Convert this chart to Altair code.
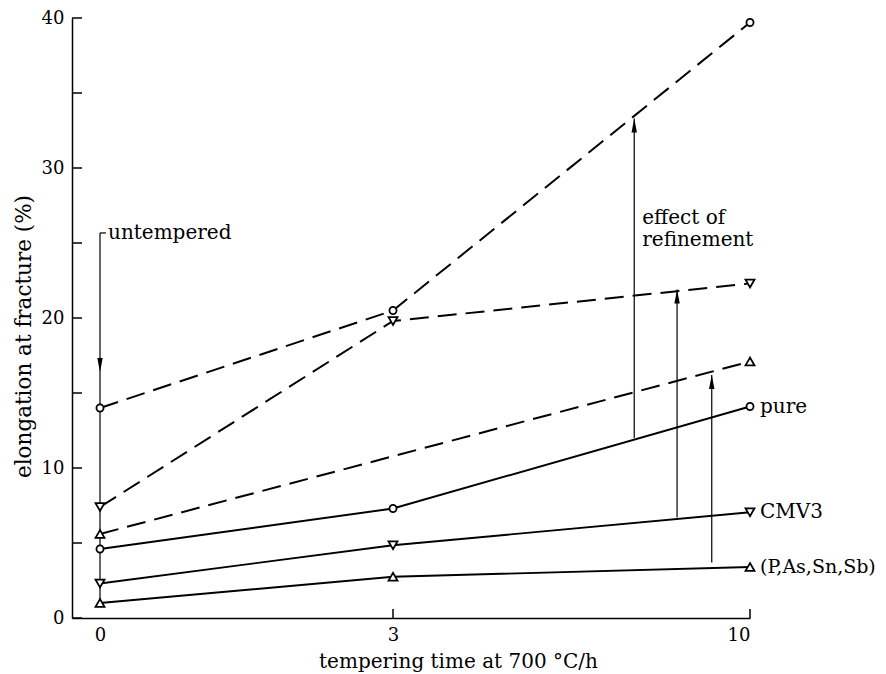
import altair as alt
import pandas as pd

# ---- data ----
times = [0, 3, 10]
pure_solid = [4.6, 7.3, 14.1]
cmv3_solid = [2.3, 4.85, 7.05]
imp_solid = [1.0, 2.75, 3.4]
pure_dashed = [14.0, 20.5, 39.7]
cmv3_dashed = [7.4, 19.8, 22.3]
imp_dashed_times = [0, 10]
imp_dashed = [5.6, 17.1]

series_labels = ["pure", "CMV3", "(P,As,Sn,Sb)"]
label_values = [14.1, 7.05, 3.4]
label_sizes = [20, 20, 19]

y_ticks = [0, 5, 10, 15, 20, 25, 30, 35, 40]
y_tick_labels = [0, 10, 20, 30, 40]
x_tick_labels = [0, 3, 10]
x_inner_ticks = [3, 10]

# annotation arrows (x, from, to)
arrow_x = [7.73, 8.57, 9.25]
arrow_from = [12.0, 6.7, 3.7]
arrow_to = [33.3, 21.9, 16.2]
untempered_x = [0]
untempered_from = [1.0]
untempered_top = [25.67]
untempered_tip = [16.4]

note_x = [0, 7.73, 7.73]
note_y = [25.67, 26.67, 25.2]
note_text = ["untempered", "effect of", "refinement"]

FONT = "DejaVu Serif"
FS = 20

rows = []
for name, vals, marker, style in [
    ("pure_s", pure_solid, "circle", "solid"),
    ("cmv3_s", cmv3_solid, "triangle-down", "solid"),
    ("imp_s", imp_solid, "triangle-up", "solid"),
    ("pure_d", pure_dashed, "circle", "dashed"),
    ("cmv3_d", cmv3_dashed, "triangle-down", "dashed"),
]:
    for t, v in zip(times, vals):
        rows.append(dict(series=name, t=t, v=v, marker=marker, style=style))
for t, v in zip(imp_dashed_times, imp_dashed):
    rows.append(dict(series="imp_d", t=t, v=v, marker="triangle-up", style="dashed"))
df = pd.DataFrame(rows)

xscale = alt.Scale(domain=[-0.287, 0, 3, 10], range=[0, 28, 321, 678], nice=False, zero=False)
yscale = alt.Scale(domain=[0, 40], nice=False, zero=True)

xaxis = alt.Axis(
    values=x_tick_labels, ticks=False, grid=False, domainColor="black", domainWidth=1.5,
    labelFont=FONT, labelFontSize=18, labelColor="black", labelPadding=8,
    title="tempering time at 700 °C/h", titleFont=FONT, titleFontSize=20,
    titleFontWeight="normal", titleColor="black", titleX=386, titleY=49,
    titleBaseline="alphabetic", titleAlign="center",
)
yaxis = alt.Axis(
    values=y_tick_labels, ticks=False, grid=False, domainColor="black", domainWidth=1.5,
    labelFont=FONT, labelFontSize=18, labelColor="black", labelPadding=8,
    title="elongation at fracture (%)", titleFont=FONT, titleFontSize=21.5,
    titleFontWeight="normal", titleColor="black", titleX=-48, titleY=318,
    titleAngle=-90, titleAlign="center", titleBaseline="middle",
)


def X(f):
    return alt.X(f, type="quantitative", scale=xscale, axis=xaxis)


def Y(f):
    return alt.Y(f, type="quantitative", scale=yscale, axis=yaxis)


ytick_df = pd.DataFrame({"v": y_ticks})
ytick_layer = alt.Chart(ytick_df).mark_rule(color="black", strokeWidth=1.5).encode(
    y=Y("v"), x=alt.value(0), x2=alt.value(10)
)
xtick_df = pd.DataFrame({"t": x_inner_ticks})
xtick_layer = alt.Chart(xtick_df).mark_rule(color="black", strokeWidth=1.5).encode(
    x=X("t"), y=alt.value(600), y2=alt.value(591)
)

solid = alt.Chart(df[df["style"] == "solid"]).mark_line(color="black", strokeWidth=1.9).encode(
    x=X("t"), y=Y("v"), detail="series:N"
)
dashed = alt.Chart(df[df["style"] == "dashed"]).mark_line(
    color="black", strokeWidth=2.0, strokeDash=[19, 9]
).encode(x=X("t"), y=Y("v"), detail="series:N")

arr_df = pd.DataFrame({"t": arrow_x, "v": arrow_from, "v2": arrow_to})
arr_lines = alt.Chart(arr_df).mark_rule(color="black", strokeWidth=1.2).encode(
    x=X("t"), y=Y("v"), y2="v2"
)
up_head = "M0,0L-0.34,1.75L0.34,1.75Z"
down_head = "M0,0L-0.34,-1.75L0.34,-1.75Z"
arr_heads = alt.Chart(arr_df).mark_point(
    shape=up_head, filled=True, color="black", size=256, opacity=1
).encode(x=X("t"), y=Y("v2"))

unt_df = pd.DataFrame({"t": untempered_x, "v": untempered_from, "v2": untempered_top,
                       "tip": untempered_tip})
unt_line = alt.Chart(unt_df).mark_rule(color="black", strokeWidth=1.2).encode(
    x=X("t"), y=Y("v"), y2="v2"
)
unt_stub = alt.Chart(unt_df).mark_rule(color="black", strokeWidth=1.2).encode(
    x=X("t"), x2=alt.value(34), y=Y("v2")
)
unt_head = alt.Chart(unt_df).mark_point(
    shape=down_head, filled=True, color="black", size=256, opacity=1
).encode(x=X("t"), y=Y("tip"))

shape_scale = alt.Scale(domain=["circle", "triangle-up", "triangle-down"],
                        range=["circle", "triangle-up", "triangle-down"])
circles = alt.Chart(df[df["marker"] == "circle"]).mark_point(
    filled=True, fill="white", stroke="black", strokeWidth=1.8, size=50, opacity=1
).encode(x=X("t"), y=Y("v"),
         shape=alt.Shape("marker:N", scale=shape_scale, legend=None))
triangles = alt.Chart(df[df["marker"] != "circle"]).mark_point(
    filled=True, fill="white", stroke="black", strokeWidth=1.8, size=80, opacity=1
).encode(x=X("t"), y=Y("v"),
         shape=alt.Shape("marker:N", scale=shape_scale, legend=None))

lab_df = pd.DataFrame({"t": [10] * 3, "v": label_values, "label": series_labels,
                       "fs": label_sizes})
labels = alt.Chart(lab_df).mark_text(
    align="left", baseline="middle", dx=10, font=FONT, color="black"
).encode(x=X("t"), y=Y("v"), text="label:N",
         size=alt.Size("fs:Q", scale=None, legend=None))

note_df = pd.DataFrame({"t": note_x, "v": note_y, "label": note_text})
notes = alt.Chart(note_df).mark_text(
    align="left", baseline="middle", font=FONT, fontSize=FS, color="black", dx=8
).encode(x=X("t"), y=Y("v"), text="label:N")

chart = alt.layer(
    ytick_layer, xtick_layer, solid, dashed, arr_lines, arr_heads,
    unt_line, unt_stub, unt_head, circles, triangles, labels, notes
).properties(
    width=678, height=600,
    autosize=alt.AutoSizeParams(type="none"),
    padding={"left": 64, "top": 10, "right": 128, "bottom": 56},
    background="white",
).configure_view(stroke=None)

chart.save("out.html", embed_options={"renderer": "svg", "actions": False})
